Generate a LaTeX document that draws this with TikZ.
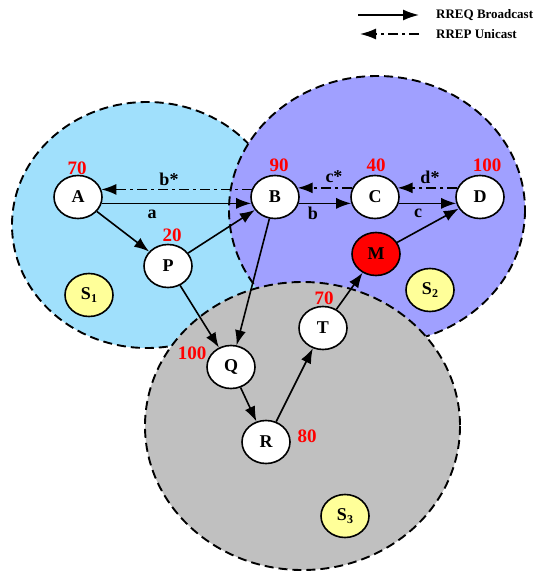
\documentclass[tikz,border=0pt]{standalone}
\usepackage{fontspec}
\setmainfont{Liberation Serif}
\usetikzlibrary{shapes.geometric,arrows.meta}
\definecolor{skyb}{RGB}{160,224,252}
\definecolor{purp}{RGB}{160,160,255}
\definecolor{greyc}{RGB}{192,192,192}
\definecolor{yel}{RGB}{255,255,153}
\newcommand{\mysub}[2]{#1\raisebox{-0.45ex}{\fontsize{12}{12}\selectfont #2}}
\begin{document}
\begin{tikzpicture}[x=1pt,y=-1pt,
 zone/.style={draw=black, line width=1.9pt, dash pattern=on 9pt off 5pt},
 nd/.style={ellipse, draw=black, line width=1.6pt, fill=white, minimum width=48pt, minimum height=43pt, inner sep=0pt, font=\fontsize{18}{18}\selectfont\bfseries},
 num/.style={text=red, font=\fontsize{19}{19}\selectfont\bfseries, inner sep=0pt},
 lab/.style={font=\fontsize{18}{18}\selectfont\bfseries, inner sep=0pt},
 leg/.style={font=\fontsize{13}{13}\selectfont\bfseries, inner sep=0pt, anchor=west},
 req/.style={line width=1.6pt, -{Latex[length=15pt,width=11pt]}},
 rep/.style={line width=1.6pt, dash pattern=on 10pt off 4pt on 3pt off 4pt, -{Latex[length=15pt,width=11pt]}},
]
\useasboundingbox (0,0) rectangle (539,571);
% zones
\draw[zone, fill=skyb] (147,225) ellipse [x radius=135, y radius=123];
\draw[zone, fill=purp] (377,210) ellipse [x radius=148, y radius=134];
\draw[zone, fill=greyc] (302.5,426) ellipse [x radius=157.5, y radius=144];
% nodes
\node[nd] (A) at (78,197) {A};
\node[nd] (B) at (275,197) {B};
\node[nd] (C) at (375,197) {C};
\node[nd] (D) at (480,197) {D};
\node[nd] (P) at (168,266) {P};
\node[nd, fill=red] (M) at (376,254) {M};
\node[nd] (T) at (323,328) {T};
\node[nd] (Q) at (231,367) {Q};
\node[nd] (R) at (266,442) {R};
\node[nd, fill=yel] (S1) at (89,295) {\mysub{S}{1}};
\node[nd, fill=yel] (S2) at (430,290) {\mysub{S}{2}};
\node[nd, fill=yel] (S3) at (345,516) {\mysub{S}{3}};
% numbers
\node[num] (nA) at (77,168) {70};
\node[num] (nB) at (279,165) {90};
\node[num] (nC) at (376,165) {40};
\node[num] (nD) at (487,165) {100};
\node[num] (nP) at (172,235) {20};
\node[num] (nT) at (324,298) {70};
\node[num] (nQ) at (192,353) {100};
\node[num] (nR) at (307,436) {80};
% edges
\draw[req] (A.-15) -- (B.195);
\draw[rep] (B.162) -- (A.18);
\draw[req] (B.-15) -- (C.195);
\draw[rep] (C.158) -- (B.22);
\draw[req] (C.-15) -- (D.195);
\draw[rep] (D.158) -- (C.22);
\draw[req] (A) -- (P);
\draw[req] (P) -- (B);
\draw[req] (P) -- (Q);
\draw[req] (B) -- (Q);
\draw[req] (Q) -- (R);
\draw[req] (R) -- (T);
\draw[req] (T) -- (M);
\draw[req] (M) -- (D);
% edge labels
\node[lab] (lbs) at (169,179) {b*};
\node[lab] (la) at (152,214) {a};
\node[lab] (lcs) at (334,177) {c*};
\node[lab] (lb) at (313,213) {b};
\node[lab] (lds) at (430,177) {d*};
\node[lab] (lc) at (418,213) {c};
% legend
\coordinate (q1) at (358,15);
\coordinate (q2) at (419,15);
\coordinate (r1) at (419,34);
\coordinate (r2) at (360,34);
\draw[req, -{Latex[length=16pt,width=11pt]}] (q1) -- (q2);
\draw[rep, -{Latex[length=16pt,width=11pt]}] (r1) -- (r2);
\node[leg] (t1) at (436,15) {RREQ Broadcast};
\node[leg] (t2) at (436,34) {RREP Unicast};
\end{tikzpicture}
\end{document}
